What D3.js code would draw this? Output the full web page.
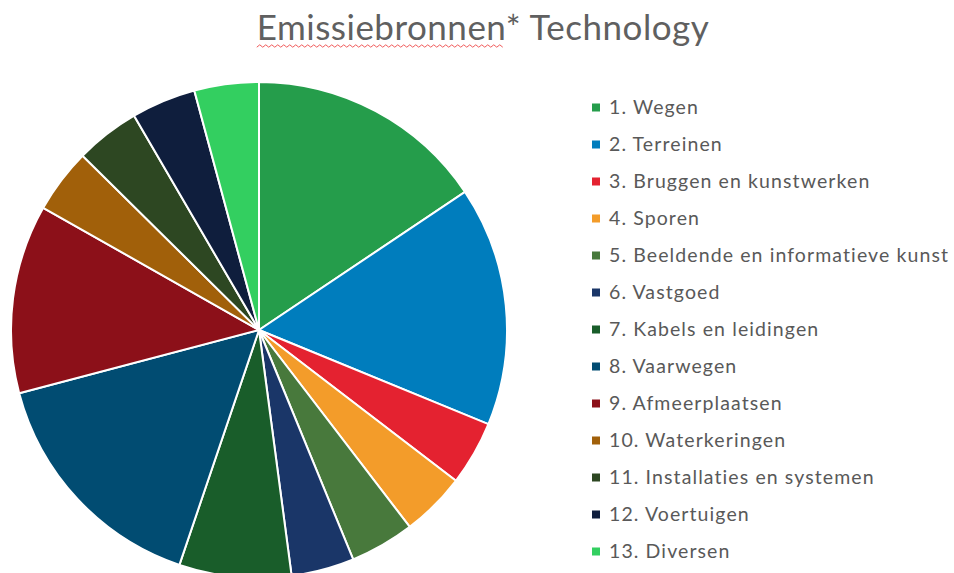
<!DOCTYPE html>
<html lang="nl">
<head>
    <meta charset="UTF-8">
    <title>Emissiebronnen Technology</title>
    <script src="https://d3js.org/d3.v7.min.js" charset="utf-8"></script>
    <style>
        body { margin: 0; background: #fff; }
        text { font-family: Lato, "Noto Sans", sans-serif; fill: #595959; }
    </style>
</head>
<body>
<script>
    // categories and their share (percent)
    var categories = [
        "1. Wegen", "2. Terreinen", "3. Bruggen en kunstwerken", "4. Sporen",
        "5. Beeldende en informatieve kunst", "6. Vastgoed", "7. Kabels en leidingen",
        "8. Vaarwegen", "9. Afmeerplaatsen", "10. Waterkeringen",
        "11. Installaties en systemen", "12. Voertuigen", "13. Diversen"
    ];
    var values = [15.6, 15.6, 4.2, 4.2, 4.2, 4.1, 7.3, 15.7, 12.3, 4.2, 4.2, 4.2, 4.2];
    var colors = [
        "#259d4b", "#007dbd", "#e42230", "#f39c2a", "#48793c", "#1a3668", "#195d2a",
        "#014c72", "#8c1019", "#a1600a", "#2d4722", "#0f1e3d", "#33cf60"
    ];

    var width = 954, height = 573;
    var cx = 259, cy = 330, radius = 248;

    var svg = d3.select("body").append("svg")
        .attr("width", width)
        .attr("height", height);

    var data = categories.map(function (c, i) {
        return {name: c, value: values[i], color: colors[i]};
    });

    // title
    var title = svg.append("text")
        .attr("x", 483)
        .attr("y", 40)
        .style("text-anchor", "middle")
        .style("font-size", "35px")
        .style("letter-spacing", "0.5px")
        .style("fill", "#606060");
    var first = title.append("tspan").text("Emissiebronnen");
    title.append("tspan").text("* Technology");

    // red spell-check squiggle under the first word
    var bb = title.node().getBBox();
    var wordLen = first.node().getComputedTextLength();
    var x0 = bb.x, y0 = 46, step = 3;
    var pts = [];
    for (var i = 0; x0 + i * step <= x0 + wordLen; i++) {
        pts.push([x0 + i * step, y0 + (i % 2 ? -1.2 : 1.2)]);
    }
    svg.append("path")
        .attr("d", d3.line()(pts))
        .attr("fill", "none")
        .attr("stroke", "#f05a5a")
        .attr("stroke-width", 1);

    // pie
    var pie = d3.pie().sort(null).value(function (d) { return d.value; });
    var arc = d3.arc().innerRadius(0).outerRadius(radius);

    svg.append("g")
        .attr("transform", "translate(" + cx + "," + cy + ")")
        .selectAll("path")
        .data(pie(data))
        .enter().append("path")
        .attr("d", arc)
        .attr("fill", function (d) { return d.data.color; })
        .attr("stroke", "#fff")
        .attr("stroke-width", 2);

    // legend
    var y = d3.scalePoint()
        .domain(categories)
        .range([107.5, 551.5]);

    var legend = svg.append("g")
        .selectAll("g")
        .data(data)
        .enter().append("g")
        .attr("transform", function (d) { return "translate(592," + y(d.name) + ")"; });

    legend.append("rect")
        .attr("x", 0)
        .attr("y", -4)
        .attr("width", 8)
        .attr("height", 8)
        .attr("fill", function (d) { return d.color; });

    legend.append("text")
        .attr("x", 17)
        .attr("dy", "0.35em")
        .style("font-size", "19.5px")
        .style("letter-spacing", "1.1px")
        .text(function (d) { return d.name; });
</script>
</body>
</html>
